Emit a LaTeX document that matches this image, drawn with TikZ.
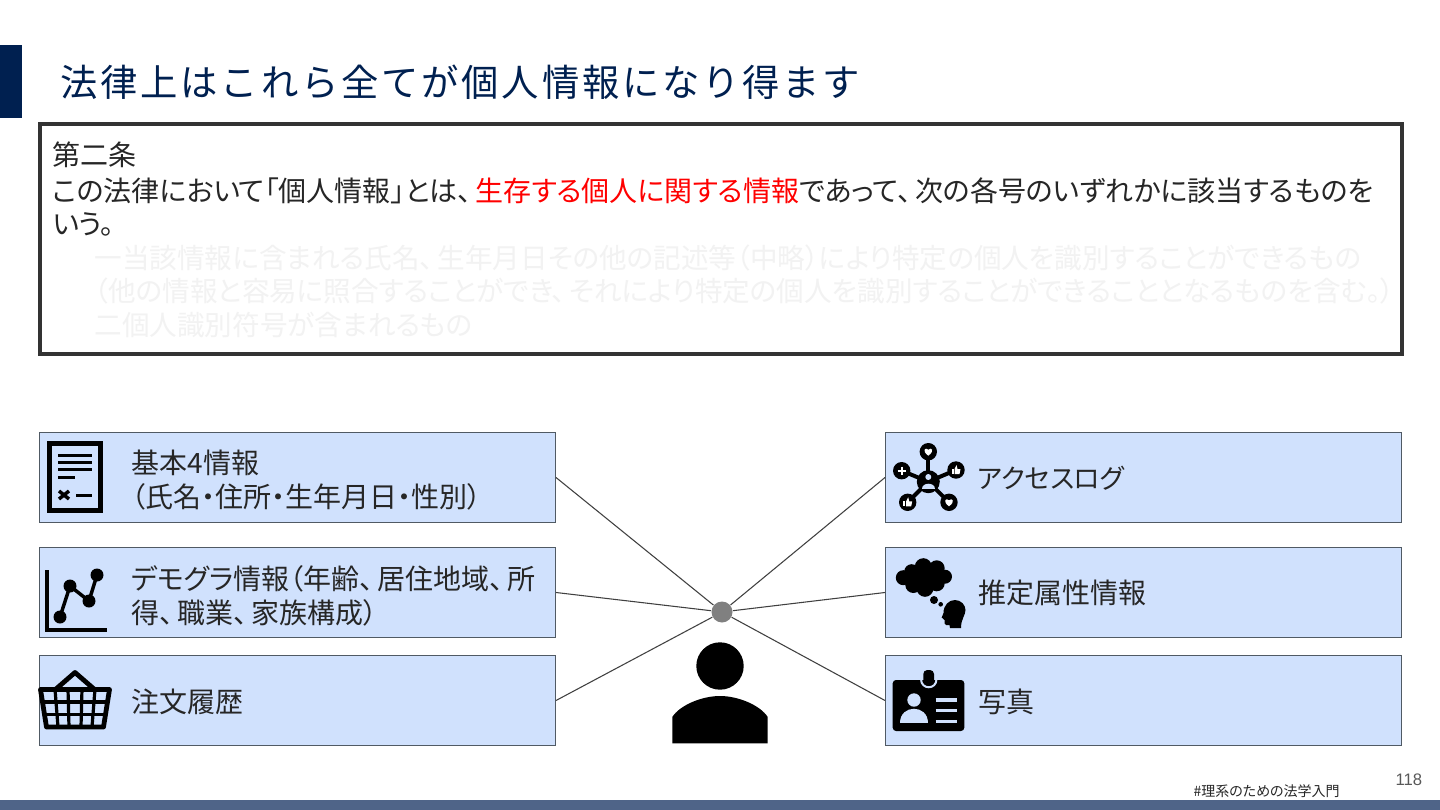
\documentclass[tikz,border=0pt]{standalone}
\usepackage{fontspec}
\setmainfont{Noto Sans CJK JP}[RawFeature=+palt]
\newfontfamily\titlefont{Noto Sans CJK JP}[LetterSpace=7.5]
\newfontfamily\pagefont{Liberation Sans}

\definecolor{navyc}{RGB}{0,32,80}
\definecolor{barc}{RGB}{79,100,136}
\definecolor{boxc}{RGB}{208,225,253}
\definecolor{edgec}{RGB}{80,90,100}
\definecolor{linec}{RGB}{64,64,64}
\definecolor{textc}{RGB}{38,38,38}
\definecolor{fadec}{RGB}{242,242,242}
\definecolor{redc}{RGB}{255,0,0}

\tikzset{
  every picture/.style={line width=0.75pt},
  infobox/.style={draw=edgec,fill=boxc,line width=0.75pt,minimum width=516*0.75pt,minimum height=90*0.75pt,inner sep=0pt},
  boxtext/.style={anchor=west,inner sep=0pt,align=left,text=textc,font=\fontsize{21}{25}\selectfont},
  lawtext/.style={anchor=west,inner sep=0pt,text=textc,font=\fontsize{21}{25}\selectfont},
  fadetext/.style={anchor=west,inner sep=0pt,text=fadec,font=\fontsize{20.7}{25}\selectfont},
  wire/.style={draw=linec,line width=0.8pt},
  iconline/.style={draw=black,line width=2.25pt},
}

% comma with a little more room after it
\newcommand{\tencomma}{、\kern3pt}
% small glyphs of the network icon
\newcommand{\glyphheart}[2]{\fill[white] (#1,#2+4) .. controls (#1-7,#2-1) and (#1-3,#2-5) .. (#1,#2-2) .. controls (#1+3,#2-5) and (#1+7,#2-1) .. (#1,#2+4) -- cycle;}
\newcommand{\glyphthumb}[2]{\fill[white] (#1-4.5,#2-1) rectangle (#1-2.5,#2+4); \fill[white] (#1-1.5,#2-1) -- (#1+0.5,#2-5) -- (#1+1.5,#2-1) -- (#1+4.5,#2-1) -- (#1+3.5,#2+4) -- (#1-1.5,#2+4) -- cycle;}

\begin{document}
\begin{tikzpicture}[x=0.75pt,y=0.75pt,yscale=-1,xscale=1]
\useasboundingbox (0,0) rectangle (1440,810);

%Shape: Title tab and footer bar
\fill [navyc] (0,45) rectangle (22,118);
\fill [barc] (0,800) rectangle (1440,810);

% Text Node
\node (title) [anchor=west,inner sep=0pt,text=navyc,font=\titlefont\fontsize{28}{32}\selectfont] at (60,82) {法律上はこれら全てが個人情報になり得ます};

%Shape: Article frame
\draw [draw=black!80,line width=3pt,fill=white] (40,124) rectangle (1402,354);

% Text Node
\node (art0) [lawtext] at (52,155) {第二条};
\node (art1) [lawtext] at (52,191) {この法律において「個人情報」とは\tencomma\textcolor{redc}{生存する個人に関する情報}であって\tencomma 次の各号のいずれかに該当するものを};
\node (art2) [lawtext] at (52,224) {いう。};
\node (art3) [fadetext] at (94,258) {一当該情報に含まれる氏名\tencomma 生年月日その他の記述等（中略）により特定の個人を識別することができるもの};
\node (art4) [fadetext] at (94,291) {（他の情報と容易に照合することができ\tencomma それにより特定の個人を識別することができることとなるものを含む。）};
\node (art5) [fadetext] at (94,325) {二個人識別符号が含まれるもの};

%Shape: Boxes
\node (basic) [infobox] at (297.5,477.5) {};
\node (demog) [infobox] at (297.5,592.5) {};
\node (order) [infobox] at (297.5,700.5) {};
\node (access) [infobox] at (1143.5,477.5) {};
\node (infer) [infobox] at (1143.5,592.5) {};
\node (photo) [infobox] at (1143.5,700.5) {};

% Text Node
\node (basictxt) [boxtext] at (131,480) {基本4情報\\（氏名・住所・生年月日・性別）};
\node (demogtxt) [boxtext] at (131,596) {デモグラ情報（年齢\tencomma 居住地域\tencomma 所\\得\tencomma 職業\tencomma 家族構成）};
\node (ordertxt) [boxtext] at (131,702) {注文履歴};
\node (accesstxt) [boxtext,font=\fontsize{20}{25}\selectfont] at (977,478) {アクセスログ};
\node (infertxt) [boxtext] at (978,593) {推定属性情報};
\node (phototxt) [boxtext] at (978,702) {写真};

%Shape: Hub
\node (hub) [circle,fill=black!50,minimum size=21*0.75pt,inner sep=0pt] at (722,612) {};

%Straight Lines
\foreach \target/\side in {basic/east,demog/east,order/east,access/west,infer/west,photo/west}
  \draw [wire] (hub) -- (\target.\side);

%Shape: Person
\fill [black] (720,666) circle (23.7);
\fill [black] (672.3,743.3) -- (672.3,717) .. controls (680,705) and (702,696) .. (720,696) .. controls (738,696) and (760,705) .. (767.7,717) -- (767.7,743.3) -- cycle;

%Shape: Document icon
\draw [black,line width=3.75pt] (49.5,443.5) rectangle (100.5,510.5);
\foreach \ypos in {455,462,469}
  \draw [iconline] (58,\ypos) -- (92,\ypos);
\draw [iconline] (58,477) -- (75,477);
\draw [black,line width=2.6pt] (59,491) -- (69,499);
\draw [black,line width=2.6pt] (69,491) -- (59,499);
\draw [iconline] (76,495) -- (92,495);

%Shape: Chart icon
\draw [black,line width=3.5pt] (47,570) -- (47,630) -- (107,630);
\draw [black,line width=2.6pt] (60,617) -- (70,586) -- (89,601) -- (97,575);
\foreach \xpos/\ypos in {60/617,70/586,89/601,97/575}
  \fill [black] (\xpos,\ypos) circle (6.5);

%Shape: Basket icon
\draw [black,line width=3.6pt,line join=round] (56,689) -- (75,672.5) -- (94,689);
\draw [black,line width=3.6pt,line join=round] (40.5,689.5) -- (109.5,689.5) -- (103.5,727) -- (46.5,727) -- cycle;
\draw [black,line width=2.4pt] (41.5,702) -- (108.5,702);
\draw [black,line width=2.4pt] (43.5,714.5) -- (106.5,714.5);
\foreach \xtop/\xbot in {55/58,68/69,82/81,95/92}
  \draw [black,line width=2.4pt] (\xtop,689) -- (\xbot,727);

%Shape: Network icon
\foreach \xpos/\ypos in {928.3/451.7,901.7/470.7,956/470,907.7/502.3,949/502.3}
  \draw [black,line width=3pt] (928.3,481.7) -- (\xpos,\ypos);
\fill [black] (928.3,481.7) circle (11.5);
\foreach \xpos/\ypos in {928.3/451.7,901.7/470.7,956/470,907.7/502.3,949/502.3}
  \fill [black] (\xpos,\ypos) circle (8.7);
\fill [boxc] (928.3,477) circle (3);
\fill [boxc] (922,489) .. controls (922,481.5) and (934.6,481.5) .. (934.6,489) -- cycle;
\glyphheart{928.3}{451.7}
\glyphheart{949}{502.3}
\glyphthumb{956}{470}
\glyphthumb{907.7}{502.3}
\draw [white,line width=1.2pt] (897.7,470.7) -- (905.7,470.7) (901.7,466.7) -- (901.7,474.7);

%Shape: Thought icon
\foreach \xpos/\ypos/\rad in {903.3/577.7/7.5,911.7/571.7/7.5,923.3/566.7/8.5,936.7/568.3/8,945/576.7/7,936.7/583.3/8,925/588.3/8.5,913.3/585/8,925/577/13}
  \fill [black] (\xpos,\ypos) circle (\rad);
\fill [black] (934,600) circle (4);
\fill [black] (940.7,604.3) circle (2.3);
\fill [black] (961,628) -- (950,628) -- (949.5,625) -- (946,625) .. controls (944,625) and (944.5,622) .. (944.5,620) -- (941.7,617.5) -- (943.5,613) .. controls (943.5,605) and (949,600) .. (955,600) .. controls (961,600) and (965.5,605) .. (965.5,610) .. controls (965.5,615) and (961,619) .. (961,628) -- cycle;

%Shape: Badge icon
\fill [black,rounded corners=2.5pt] (892.7,680) rectangle (964.3,731);
\draw [boxc,line width=1.5pt] (921,679) .. controls (921,690) and (936.5,690) .. (936.5,679);
\fill [black,rounded corners=3pt] (923.3,670) rectangle (934,685);
\fill [boxc] (914,700) circle (6.7);
\fill [boxc] (900,723.3) .. controls (900,704) and (928.3,704) .. (928.3,723.3) -- cycle;
\foreach \ypos in {700,710.7,721.7}
  \draw [boxc,line width=2.6pt] (935.7,\ypos) -- (956.7,\ypos);

% Text Node
\node (tag) [anchor=west,inner sep=0pt,text=textc,font=\fontsize{10.5}{12}\selectfont] at (1193,791) {\#理系のための法学入門};
\node (pageno) [anchor=west,inner sep=0pt,text=black!65,font=\pagefont\fontsize{12.5}{14}\selectfont] at (1395,780) {118};

\end{tikzpicture}
\end{document}
